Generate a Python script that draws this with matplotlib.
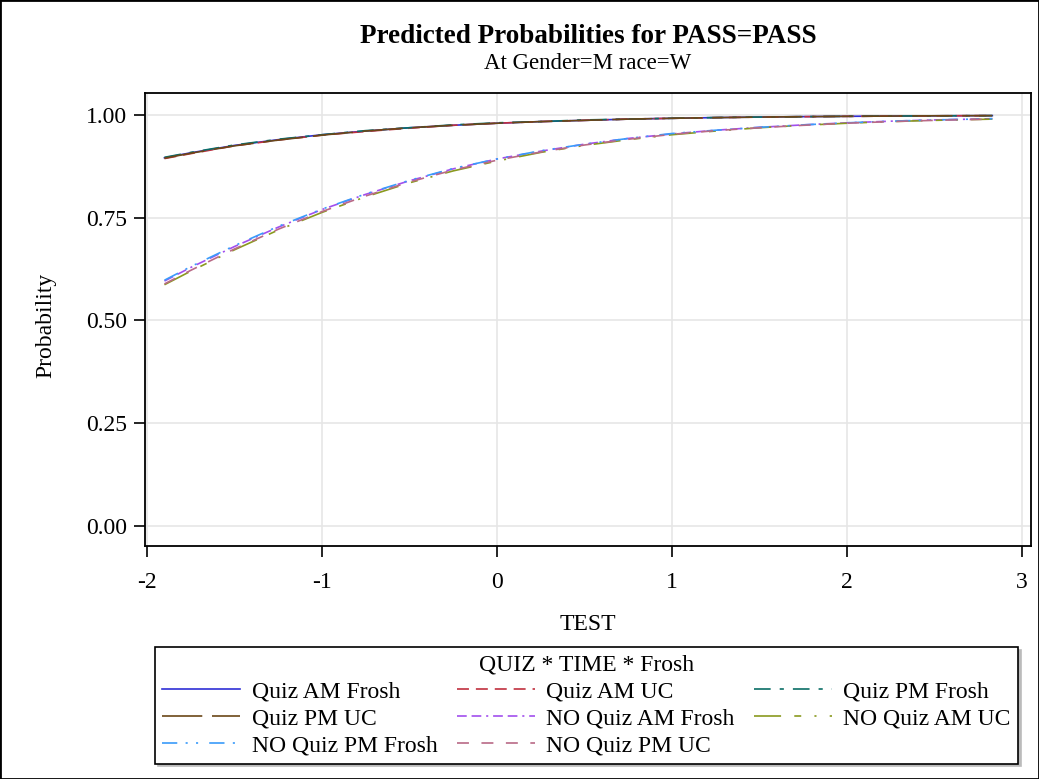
import matplotlib
matplotlib.use("Agg")
import matplotlib.pyplot as plt
from matplotlib.patches import Rectangle

plt.rcParams['font.family'] = ['Liberation Serif', 'DejaVu Serif']
plt.rcParams['axes.unicode_minus'] = False
plt.rcParams['lines.scale_dashes'] = False

# values
test = [-1.9, -1.75, -1.5, -1.25, -1.0, -0.75, -0.5, -0.25, 0.0, 0.25,
        0.5, 0.75, 1.0, 1.25, 1.5, 1.75, 2.0, 2.25, 2.5, 2.83]

quiz_am_frosh = [0.896, 0.908, 0.926, 0.940, 0.952, 0.961, 0.969, 0.975, 0.980, 0.984,
                 0.987, 0.990, 0.992, 0.9937, 0.995, 0.996, 0.9968, 0.9974, 0.998, 0.9985]
quiz_am_uc = [0.894, 0.906, 0.925, 0.939, 0.951, 0.960, 0.968, 0.975, 0.980, 0.984,
              0.987, 0.990, 0.992, 0.9936, 0.9949, 0.9959, 0.9967, 0.9973, 0.998, 0.9985]
quiz_pm_frosh = [0.897, 0.909, 0.927, 0.941, 0.952, 0.962, 0.969, 0.976, 0.981, 0.984,
                 0.988, 0.990, 0.992, 0.9938, 0.995, 0.996, 0.9968, 0.9974, 0.998, 0.9985]
quiz_pm_uc = [0.895, 0.907, 0.925, 0.939, 0.951, 0.961, 0.969, 0.975, 0.980, 0.984,
              0.987, 0.990, 0.992, 0.9936, 0.9949, 0.9959, 0.9968, 0.9974, 0.998, 0.9985]
noquiz_am_frosh = [0.596, 0.629, 0.680, 0.727, 0.770, 0.807, 0.840, 0.869, 0.893, 0.912,
                   0.929, 0.943, 0.954, 0.963, 0.970, 0.976, 0.981, 0.985, 0.988, 0.991]
noquiz_am_uc = [0.587, 0.620, 0.672, 0.720, 0.763, 0.801, 0.835, 0.864, 0.888, 0.909,
                0.926, 0.940, 0.952, 0.961, 0.969, 0.975, 0.980, 0.984, 0.987, 0.990]
noquiz_pm_frosh = [0.598, 0.631, 0.682, 0.729, 0.771, 0.808, 0.841, 0.870, 0.893, 0.913,
                   0.929, 0.943, 0.955, 0.963, 0.970, 0.976, 0.981, 0.985, 0.988, 0.991]
noquiz_pm_uc = [0.589, 0.622, 0.674, 0.722, 0.765, 0.803, 0.837, 0.866, 0.890, 0.910,
                0.927, 0.941, 0.953, 0.962, 0.969, 0.975, 0.980, 0.984, 0.987, 0.990]

labels = ['Quiz AM Frosh', 'Quiz AM UC', 'Quiz PM Frosh', 'Quiz PM UC',
          'NO Quiz AM Frosh', 'NO Quiz AM UC', 'NO Quiz PM Frosh', 'NO Quiz PM UC']
series = [quiz_am_frosh, quiz_am_uc, quiz_pm_frosh, quiz_pm_uc,
          noquiz_am_frosh, noquiz_am_uc, noquiz_pm_frosh, noquiz_pm_uc]
colors = ['#2F2FD6', '#C0303E', '#0B6E66', '#6B4718',
          '#A24FEE', '#8A991F', '#3A9BFA', '#B96A86']
# dash patterns in points (scale_dashes off)
styles = ['-',
          (0, (8.6, 5)),
          (0, (12, 6.5, 3, 6.5)),
          (0, (29, 7)),
          (0, (7, 3.5, 7, 3.5, 1.5, 3.5)),
          (0, (19.5, 9.5, 5, 9.5, 1.5, 9.5)),
          (0, (11, 6, 1.5, 6, 1.5, 8)),
          (0, (8.6, 9))]

fig = plt.figure(figsize=(10.39, 7.79), dpi=100)
fig.patches.append(Rectangle((0, 0), 1, 1, transform=fig.transFigure, fill=False,
                             edgecolor='black', linewidth=2))

ax = fig.add_axes([0.1396, 0.2991, 0.8527, 0.5815])
handles = []
for vals, lab, c, ls in zip(series, labels, colors, styles):
    h, = ax.plot(test, vals, color=c, linestyle=ls, linewidth=1.2, label=lab)
    handles.append(h)

ax.set_xlim(-2.011, 3.051)
ax.set_ylim(-0.0487, 1.0535)
ax.set_xticks([-2, -1, 0, 1, 2, 3])
ax.set_yticks([0, 0.25, 0.5, 0.75, 1.0])
ax.set_yticklabels(['0.00', '0.25', '0.50', '0.75', '1.00'])
ax.grid(True, color='#E6E6E6', linewidth=1.2)
ax.set_axisbelow(True)
ax.tick_params(labelsize=17, length=8, width=1.2, direction='out')
ax.tick_params(axis='x', pad=11)
ax.tick_params(axis='y', pad=5)
for s in ax.spines.values():
    s.set_linewidth(1.3)
ax.set_xlabel('TEST', fontsize=17)
ax.set_ylabel('Probability', fontsize=17)
ax.xaxis.set_label_coords(0.5, -0.173)
ax.xaxis.label.set_va('center')
ax.yaxis.set_label_coords(-0.112, 0.487)
ax.yaxis.label.set_va('center')

fig.text(0.566, 0.953, 'Predicted Probabilities for PASS=PASS', ha='center',
         va='center', fontsize=19.5, fontweight='bold')
fig.text(0.566, 0.919, 'At Gender=M race=W', ha='center', va='center', fontsize=16.5)

# reorder so the column-major legend reads row by row
order = [0, 3, 6, 1, 4, 7, 2, 5]
leg = fig.legend([handles[i] for i in order], [labels[i] for i in order],
                 ncol=3, loc='upper center', bbox_to_anchor=(0.5645, 0.1695),
                 title='QUIZ * TIME * Frosh', fontsize=17, title_fontsize=17,
                 handlelength=3.3, handletextpad=0.5, columnspacing=0.8,
                 labelspacing=0.24, borderpad=0.3, fancybox=False, frameon=True,
                 shadow={'ox': 2, 'oy': -2, 'color': '#BBBBBB', 'alpha': 1},
                 borderaxespad=0)
leg.get_frame().set_edgecolor('black')
leg.get_frame().set_linewidth(1.2)

fig.savefig('out.png', dpi=100)
